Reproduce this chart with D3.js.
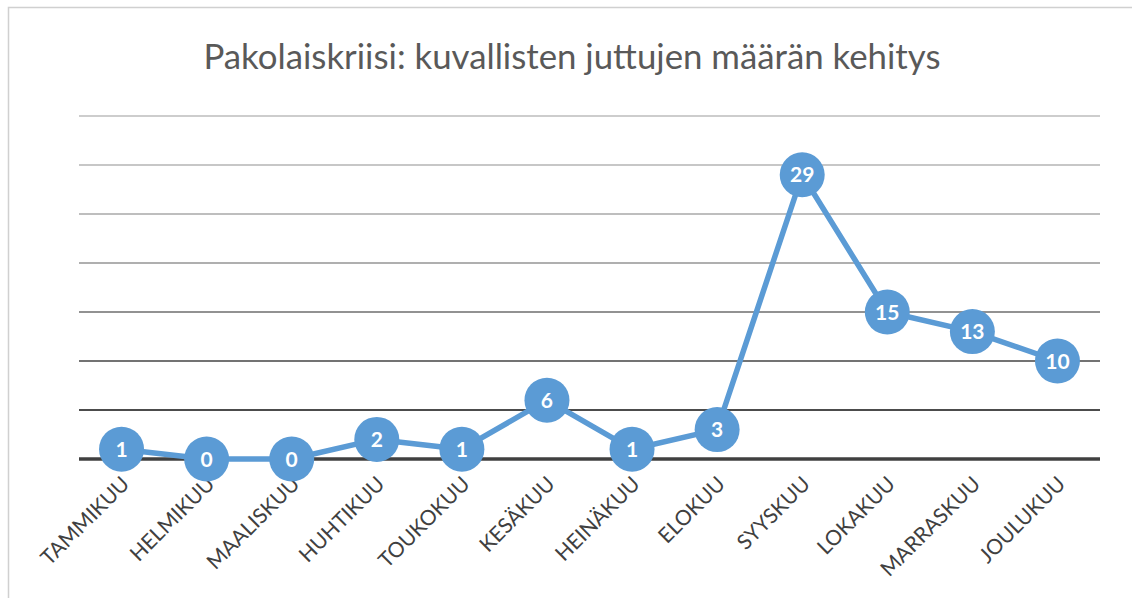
<!DOCTYPE html>
<html>
<head>
<meta charset="utf-8">
<script src="https://cdn.jsdelivr.net/npm/d3@7"></script>
<style>
  body { margin: 0; background: #fff; }
  svg { display: block; }
</style>
</head>
<body>
<div id="chart"></div>
<script>
// data
var months = ["TAMMIKUU", "HELMIKUU", "MAALISKUU", "HUHTIKUU", "TOUKOKUU", "KESÄKUU",
              "HEINÄKUU", "ELOKUU", "SYYSKUU", "LOKAKUU", "MARRASKUU", "JOULUKUU"];
var counts = [1, 0, 0, 2, 1, 6, 1, 3, 29, 15, 13, 10];
var gridValues = [0, 5, 10, 15, 20, 25, 30, 35];
var title = "Pakolaiskriisi: kuvallisten juttujen määrän kehitys";

var W = 1132, H = 598;
var svg = d3.select("#chart").append("svg")
  .attr("width", W)
  .attr("height", H);

// outer chart border
svg.append("rect")
  .attr("x", 8.5).attr("y", 7.5)
  .attr("width", W + 10).attr("height", H + 10)
  .style("fill", "none")
  .style("stroke", "#d0d0d0")
  .style("stroke-width", "1.5px");

var x = d3.scalePoint().domain(months).range([79, 1100]).padding(0.5);
var y = d3.scaleLinear().domain([0, 35]).range([459, 116]);

// gridlines, darker towards the bottom like the original
var gridColor = d3.scaleOrdinal()
  .domain(gridValues)
  .range(["#404040", "#111111", "#444444", "#6e6e6e", "#949494", "#a8a8a8", "#b4b4b4", "#bdbdbd"]);

svg.append("g").selectAll("line")
  .data(gridValues)
  .join("line")
  .attr("x1", 79).attr("x2", 1100)
  .attr("y1", d => y(d)).attr("y2", d => y(d))
  .style("stroke", d => gridColor(d))
  .style("stroke-width", d => d === 0 ? "3.5px" : "1.5px");

// title
svg.append("text")
  .attr("x", 572).attr("y", 69)
  .attr("text-anchor", "middle")
  .style("font-family", "Lato, sans-serif")
  .style("font-size", "34.8px")
  .style("fill", "#595959")
  .text(title);

// month labels, rotated
svg.append("g").selectAll("text")
  .data(months)
  .join("text")
  .attr("transform", d => "translate(" + (x(d) + 4) + ",480) rotate(-45)")
  .attr("text-anchor", "end")
  .attr("dy", "0.35em")
  .style("font-family", "Lato, sans-serif")
  .style("font-size", "21px")
  .style("fill", "#404040")
  .text(d => d);

// line
var line = d3.line()
  .x((d, i) => x(months[i]))
  .y(d => y(d));

svg.append("path")
  .datum(counts)
  .attr("d", line)
  .style("fill", "none")
  .style("stroke", "#5b9bd5")
  .style("stroke-width", "5.5px")
  .style("stroke-linejoin", "round");

// markers with value labels
var pts = svg.append("g").selectAll("g")
  .data(counts)
  .join("g")
  .attr("transform", (d, i) => "translate(" + x(months[i]) + "," + y(d) + ")");

pts.append("circle")
  .attr("r", 22.5)
  .style("fill", "#5b9bd5");

pts.append("text")
  .attr("text-anchor", "middle")
  .attr("dy", "0.36em")
  .style("font-family", "Lato, sans-serif")
  .style("font-weight", "bold")
  .style("font-size", "21px")
  .style("fill", "#ffffff")
  .text(d => d);
</script>
</body>
</html>
